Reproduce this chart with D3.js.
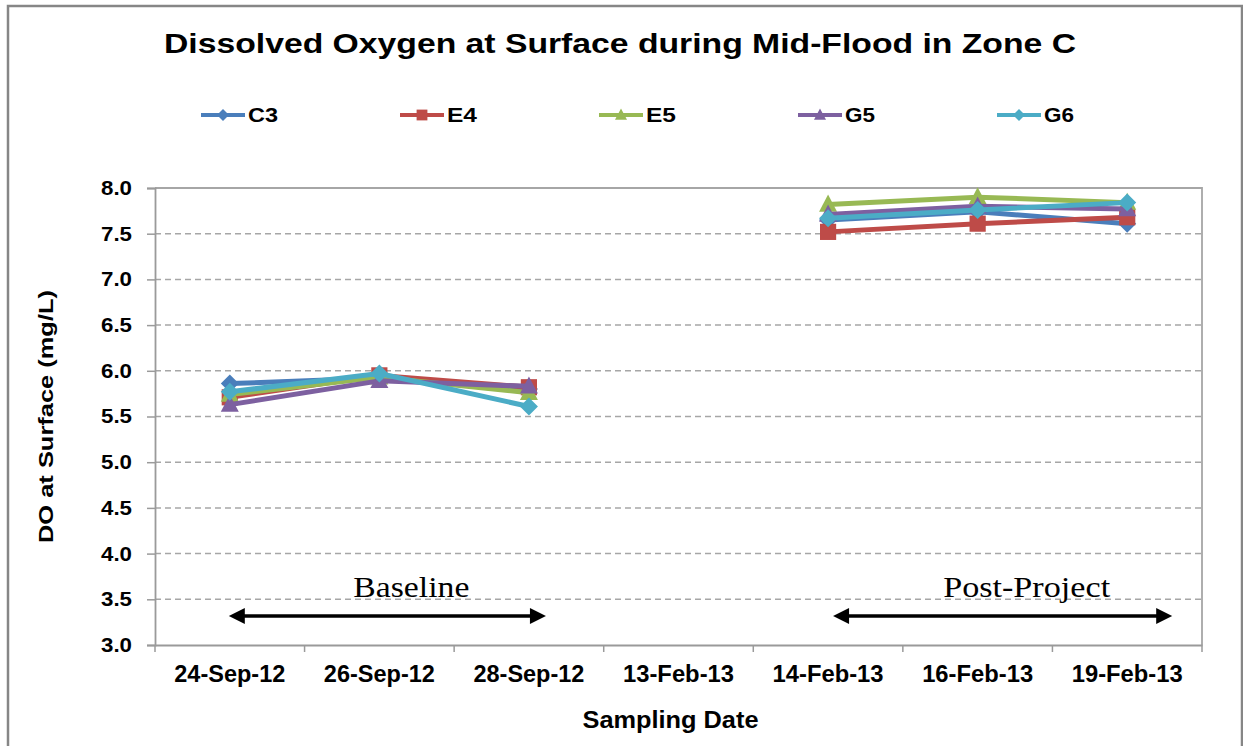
<!DOCTYPE html>
<html>
<head>
<meta charset="utf-8">
<script src="https://cdn.jsdelivr.net/npm/d3@7"></script>
<style>
  html, body { margin: 0; padding: 0; background: #fff; }
  svg { display: block; }
</style>
</head>
<body>
<svg id="chart" width="1243" height="746"></svg>
<script>
// ---- data ----
const categories = ["24-Sep-12", "26-Sep-12", "28-Sep-12", "13-Feb-13", "14-Feb-13", "16-Feb-13", "19-Feb-13"];
const seriesNames = ["C3", "E4", "E5", "G5", "G6"];
const C3 = [5.86, 5.92, 5.80, null, 7.65, 7.74, 7.61];
const E4 = [5.71, 5.95, 5.82, null, 7.52, 7.61, 7.68];
const E5 = [5.74, 5.93, 5.76, null, 7.82, 7.90, 7.84];
const G5 = [5.63, 5.89, 5.83, null, 7.71, 7.80, 7.77];
const G6 = [5.77, 5.97, 5.61, null, 7.67, 7.76, 7.84];
const yTicks = [3.0, 3.5, 4.0, 4.5, 5.0, 5.5, 6.0, 6.5, 7.0, 7.5, 8.0];
const seriesColors = ["#4A7EBB", "#BE4B48", "#98B954", "#7D60A0", "#4BACC6"];
const seriesMarkers = ["diamond", "square", "triangle", "triangle", "diamond"];
const periodLabels = ["Baseline", "Post-Project"];
const periodFrom = ["24-Sep-12", "14-Feb-13"];
const periodTo = ["28-Sep-12", "19-Feb-13"];

const seriesValues = [C3, E4, E5, G5, G6];
const series = seriesNames.map((n, i) => ({ name: n, values: seriesValues[i], color: seriesColors[i], marker: seriesMarkers[i] }));

// ---- layout ----
const svg = d3.select("#chart");
const plot = { left: 155, right: 1202, top: 188, bottom: 645 };
const x = d3.scaleBand().domain(categories).range([plot.left, plot.right]);
const y = d3.scaleLinear().domain([3, 8]).range([plot.bottom, plot.top]);
const SANS = "'Liberation Sans', Arial, sans-serif";
const SERIF = "'Liberation Serif', 'Times New Roman', serif";

// outer border
svg.append("rect").attr("x", 8).attr("y", 6).attr("width", 1234).attr("height", 760)
  .attr("fill", "none").attr("stroke", "#868686").attr("stroke-width", 2.5);

// title
svg.append("text").attr("x", 620).attr("y", 53).attr("text-anchor", "middle")
  .attr("font-family", SANS).attr("font-weight", "bold").attr("font-size", 28)
  .attr("textLength", 912).attr("lengthAdjust", "spacingAndGlyphs")
  .text("Dissolved Oxygen at Surface during Mid-Flood in Zone C");

// gridlines
svg.append("g").selectAll("line").data(yTicks.filter(v => v > 3 && v < 8)).join("line")
  .attr("x1", plot.left).attr("x2", plot.right)
  .attr("y1", d => y(d)).attr("y2", d => y(d))
  .attr("stroke", "#a6a6a6").attr("stroke-width", 1.5).attr("stroke-dasharray", "6,4");

// plot border (top & right)
svg.append("path")
  .attr("d", `M${plot.left},${y(8)}H${plot.right}V${y(3)}`)
  .attr("fill", "none").attr("stroke", "#a6a6a6").attr("stroke-width", 1.8);

// y axis
const yAxis = svg.append("g").attr("transform", `translate(${plot.left},0)`)
  .call(d3.axisLeft(y).tickValues(yTicks).tickFormat(d3.format(".1f")).tickSize(8).tickPadding(15));
yAxis.select(".domain").attr("stroke", "#9a9a9a").attr("stroke-width", 1.8);
yAxis.selectAll(".tick line").attr("stroke", "#9a9a9a").attr("stroke-width", 1.5);
yAxis.selectAll(".tick text").attr("font-family", SANS).attr("font-weight", "bold")
  .attr("font-size", 20).attr("fill", "#000").attr("textLength", 31).attr("lengthAdjust", "spacingAndGlyphs");

// x axis (labels centred, ticks between categories)
const xAxis = svg.append("g").attr("transform", `translate(0,${plot.bottom})`)
  .call(d3.axisBottom(x).tickSize(0).tickPadding(20));
xAxis.select(".domain").attr("stroke", "#9a9a9a").attr("stroke-width", 1.8);
xAxis.selectAll(".tick text").attr("font-family", SANS).attr("font-weight", "bold")
  .attr("font-size", 24).attr("fill", "#000").attr("textLength", 111).attr("lengthAdjust", "spacingAndGlyphs");
const bounds = categories.map(c => x(c)).concat([x.range()[1]]);
xAxis.append("g").selectAll("line").data(bounds).join("line")
  .attr("x1", d => d).attr("x2", d => d).attr("y1", 0).attr("y2", 7)
  .attr("stroke", "#9a9a9a").attr("stroke-width", 1.5);

// axis titles
svg.append("text").attr("x", (plot.left + plot.right) / 2 - 8).attr("y", 728).attr("text-anchor", "middle")
  .attr("font-family", SANS).attr("font-weight", "bold").attr("font-size", 24)
  .attr("textLength", 176).attr("lengthAdjust", "spacingAndGlyphs")
  .text("Sampling Date");
svg.append("text").attr("transform", `translate(53,${(plot.top + plot.bottom) / 2}) rotate(-90)`)
  .attr("text-anchor", "middle")
  .attr("font-family", SANS).attr("font-weight", "bold").attr("font-size", 21)
  .attr("textLength", 253).attr("lengthAdjust", "spacingAndGlyphs")
  .text("DO at Surface (mg/L)");

// markers
function markerPath(type, s) {
  if (type === "diamond") return `M0,${-s}L${s},0L0,${s}L${-s},0Z`;
  if (type === "square") return `M${-s * 0.9},${-s * 0.9}H${s * 0.9}V${s * 0.9}H${-s * 0.9}Z`;
  return `M0,${-s * 1.1}L${s},${s * 0.8}H${-s}Z`;
}

// series lines + markers
const xc = c => x(c) + x.bandwidth() / 2;
const line = d3.line().defined(d => d.v != null).x(d => xc(d.c)).y(d => y(d.v));
series.forEach(s => {
  const pts = categories.map((c, i) => ({ c, v: s.values[i] }));
  const g = svg.append("g");
  g.append("path").datum(pts).attr("d", line).attr("fill", "none")
    .attr("stroke", s.color).attr("stroke-width", 5).attr("stroke-linejoin", "round");
  g.selectAll("path.m").data(pts.filter(d => d.v != null)).join("path").attr("class", "m")
    .attr("transform", d => `translate(${xc(d.c)},${y(d.v)})`)
    .attr("d", markerPath(s.marker, 9)).attr("fill", s.color);
});

// legend
const legend = svg.append("g");
series.forEach((s, i) => {
  const lx = 201 + i * 199, ly = 115;
  legend.append("line").attr("x1", lx).attr("x2", lx + 44).attr("y1", ly).attr("y2", ly)
    .attr("stroke", s.color).attr("stroke-width", 4);
  legend.append("path").attr("transform", `translate(${lx + 22},${ly})`)
    .attr("d", markerPath(s.marker, 6)).attr("fill", s.color);
  legend.append("text").attr("x", lx + 47).attr("y", ly + 7)
    .attr("font-family", SANS).attr("font-weight", "bold").attr("font-size", 20)
    .attr("textLength", 30).attr("lengthAdjust", "spacingAndGlyphs")
    .text(s.name);
});

// period annotations (double-headed arrows under each sampling period)
const ay = 616;
const arrowPad = [[-1, 17], [5, 45]];
periodLabels.forEach((label, i) => {
  const x1 = xc(periodFrom[i]) + arrowPad[i][0], x2 = xc(periodTo[i]) + arrowPad[i][1];
  const g = svg.append("g");
  g.append("line").attr("x1", x1 + 14).attr("x2", x2 - 14).attr("y1", ay).attr("y2", ay)
    .attr("stroke", "#000").attr("stroke-width", 3.5);
  g.append("path").attr("d", `M${x1},${ay}L${x1 + 16},${ay - 8}V${ay + 8}Z`).attr("fill", "#000");
  g.append("path").attr("d", `M${x2},${ay}L${x2 - 16},${ay - 8}V${ay + 8}Z`).attr("fill", "#000");
  g.append("text").attr("x", (x1 + x2) / 2 + 24).attr("y", 597)
    .attr("text-anchor", "middle").attr("font-family", SERIF).attr("font-size", 29)
    .attr("textLength", label === "Baseline" ? 116 : 167).attr("lengthAdjust", "spacingAndGlyphs")
    .text(label);
});
</script>
</body>
</html>
